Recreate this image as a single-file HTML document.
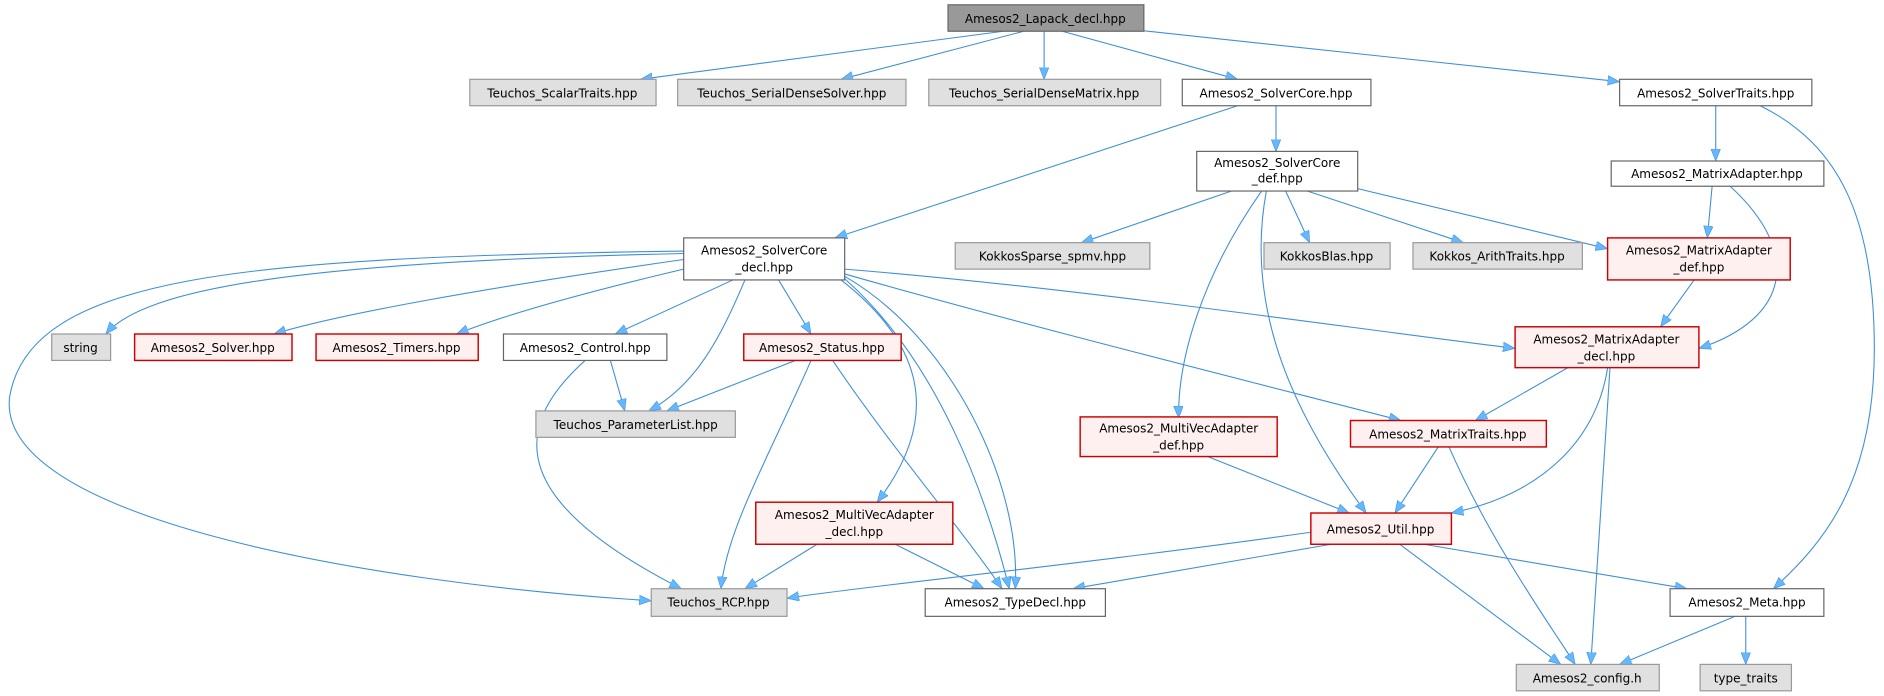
<!DOCTYPE html>
<html><head><meta charset="utf-8"><style>
html,body{margin:0;padding:0;background:#fff;}
svg{display:block;}
text{font-family:"DejaVu Sans","Liberation Sans",sans-serif;font-size:10px;fill:#000;text-anchor:middle;}
.g{fill:#e0e0e0;stroke:#999;stroke-width:1}
.w{fill:#fff;stroke:#666;stroke-width:1}
.r{fill:#fff0f0;stroke:#c00;stroke-width:1.2}
.e{fill:none;stroke:#3f8fd8;stroke-width:0.9}
</style></head><body>
<svg width="1884" height="696" viewBox="0 0 1568 579.3" xmlns="http://www.w3.org/2000/svg">
<defs><marker id="a" markerUnits="userSpaceOnUse" markerWidth="12" markerHeight="10" refX="10" refY="4" orient="auto"><path d="M0,0 L10,4 L0,8 z" fill="#63b8ff" stroke="#3f8fd8" stroke-width="0.5"/></marker></defs>
<g class="e" marker-end="url(#a)">
<path d="M835,26 L533,66"/>
<path d="M852,26 L700,66"/>
<path d="M869,26 L869,66"/>
<path d="M884,26 L1030,66"/>
<path d="M946,25 L1348,68"/>
<path d="M1030,88 L695,198"/>
<path d="M1062,88 L1062,126"/>
<path d="M1428,88 L1428,134"/>
<path d="M1465,88 C1530,120 1560,180 1560,290 C1560,400 1520,450 1476,490"/>
<path d="M1425,155 L1421,198"/>
<path d="M1440,155 C1500,210 1490,265 1414,290"/>
<path d="M1025,159 L900,202"/>
<path d="M1070,159 L1090,202"/>
<path d="M1088,159 L1218,202"/>
<path d="M1130,157 L1338,207"/>
<path d="M1050,159 C1000,230 980,300 981,348"/>
<path d="M1054,159 C1035,260 1080,350 1137,427"/>
<path d="M1410,233 L1382,272"/>
<path d="M569,211 C250,218 120,240 88,278"/>
<path d="M569,216 C400,240 280,262 228,278"/>
<path d="M569,224 C480,245 420,262 380,278"/>
<path d="M610,233 L512,278"/>
<path d="M648,233 L675,278"/>
<path d="M620,233 C600,280 580,320 540,342"/>
<path d="M569,209 C200,214 25,230 8,330 C-5,430 300,485 542,500"/>
<path d="M700,233 C760,280 790,340 730,418"/>
<path d="M703,230 C790,280 850,400 845,490"/>
<path d="M703,232 C780,300 820,410 840,490"/>
<path d="M703,224 C900,240 1100,270 1261,290"/>
<path d="M703,228 C850,270 1050,320 1166,350"/>
<path d="M508,300 L520,342"/>
<path d="M487,300 C420,360 430,420 567,490"/>
<path d="M662,300 L555,342"/>
<path d="M675,300 C640,380 605,440 600,490"/>
<path d="M693,300 C740,370 800,440 834,490"/>
<path d="M680,453 L620,490"/>
<path d="M745,453 L819,490"/>
<path d="M1305,306 L1228,350"/>
<path d="M1338,306 C1330,360 1290,410 1208,427"/>
<path d="M1340,306 L1324,553"/>
<path d="M1005,380 L1123,427"/>
<path d="M1197,372 L1161,427"/>
<path d="M1206,372 C1240,450 1290,520 1311,553"/>
<path d="M1091,443 C900,470 700,490 655,498"/>
<path d="M1108,453 L893,490"/>
<path d="M1165,453 L1299,553"/>
<path d="M1185,453 L1404,490"/>
<path d="M1444,513 L1348,553"/>
<path d="M1453,513 L1453,553"/>
</g>
<rect x="789" y="4" width="163" height="22" fill="#999" stroke="#666"/><text x="870" y="19">Amesos2_Lapack_decl.hpp</text>
<rect class="g" x="391" y="66" width="155" height="22"/><text x="468" y="81">Teuchos_ScalarTraits.hpp</text>
<rect class="g" x="564" y="66" width="190" height="22"/><text x="659" y="81">Teuchos_SerialDenseSolver.hpp</text>
<rect class="g" x="773" y="66" width="193" height="22"/><text x="869" y="81">Teuchos_SerialDenseMatrix.hpp</text>
<rect class="w" x="984" y="66" width="157" height="22"/><text x="1062" y="81">Amesos2_SolverCore.hpp</text>
<rect class="w" x="1348" y="66" width="160" height="22"/><text x="1428" y="81">Amesos2_SolverTraits.hpp</text>
<rect class="w" x="996" y="126" width="134" height="33"/><text x="1063" y="139">Amesos2_SolverCore</text><text x="1063" y="152">_def.hpp</text>
<rect class="w" x="1341" y="134" width="177" height="21"/><text x="1429" y="148">Amesos2_MatrixAdapter.hpp</text>
<rect class="w" x="569" y="198" width="134" height="35"/><text x="636" y="212">Amesos2_SolverCore</text><text x="636" y="226">_decl.hpp</text>
<rect class="g" x="795" y="202" width="162" height="22"/><text x="876" y="217">KokkosSparse_spmv.hpp</text>
<rect class="g" x="1052" y="202" width="105" height="22"/><text x="1104" y="217">KokkosBlas.hpp</text>
<rect class="g" x="1176" y="202" width="141" height="22"/><text x="1246" y="217">Kokkos_ArithTraits.hpp</text>
<rect class="r" x="1338" y="198" width="152" height="35"/><text x="1414" y="212">Amesos2_MatrixAdapter</text><text x="1414" y="226">_def.hpp</text>
<rect class="g" x="43" y="278" width="49" height="22"/><text x="67" y="293">string</text>
<rect class="r" x="112" y="278" width="131" height="22"/><text x="177" y="293">Amesos2_Solver.hpp</text>
<rect class="r" x="263" y="278" width="135" height="22"/><text x="330" y="293">Amesos2_Timers.hpp</text>
<rect class="w" x="419" y="278" width="136" height="22"/><text x="487" y="293">Amesos2_Control.hpp</text>
<rect class="r" x="619" y="278" width="131" height="22"/><text x="684" y="293">Amesos2_Status.hpp</text>
<rect class="r" x="1261" y="272" width="153" height="34"/><text x="1337" y="286">Amesos2_MatrixAdapter</text><text x="1337" y="300">_decl.hpp</text>
<rect class="g" x="446" y="342" width="166" height="22"/><text x="529" y="357">Teuchos_ParameterList.hpp</text>
<rect class="r" x="899" y="347" width="164" height="33"/><text x="981" y="360">Amesos2_MultiVecAdapter</text><text x="981" y="374">_def.hpp</text>
<rect class="r" x="1124" y="350" width="163" height="22"/><text x="1205" y="365">Amesos2_MatrixTraits.hpp</text>
<rect class="r" x="629" y="418" width="164" height="35"/><text x="711" y="432">Amesos2_MultiVecAdapter</text><text x="711" y="446">_decl.hpp</text>
<rect class="r" x="1091" y="427" width="117" height="26"/><text x="1149" y="444">Amesos2_Util.hpp</text>
<rect class="g" x="542" y="490" width="113" height="23"/><text x="598" y="505">Teuchos_RCP.hpp</text>
<rect class="w" x="770" y="490" width="150" height="23"/><text x="845" y="505">Amesos2_TypeDecl.hpp</text>
<rect class="w" x="1390" y="490" width="128" height="23"/><text x="1454" y="505">Amesos2_Meta.hpp</text>
<rect class="g" x="1262" y="553" width="119" height="22"/><text x="1321" y="568">Amesos2_config.h</text>
<rect class="g" x="1415" y="553" width="76" height="22"/><text x="1453" y="568">type_traits</text>
</svg>
</body></html>
